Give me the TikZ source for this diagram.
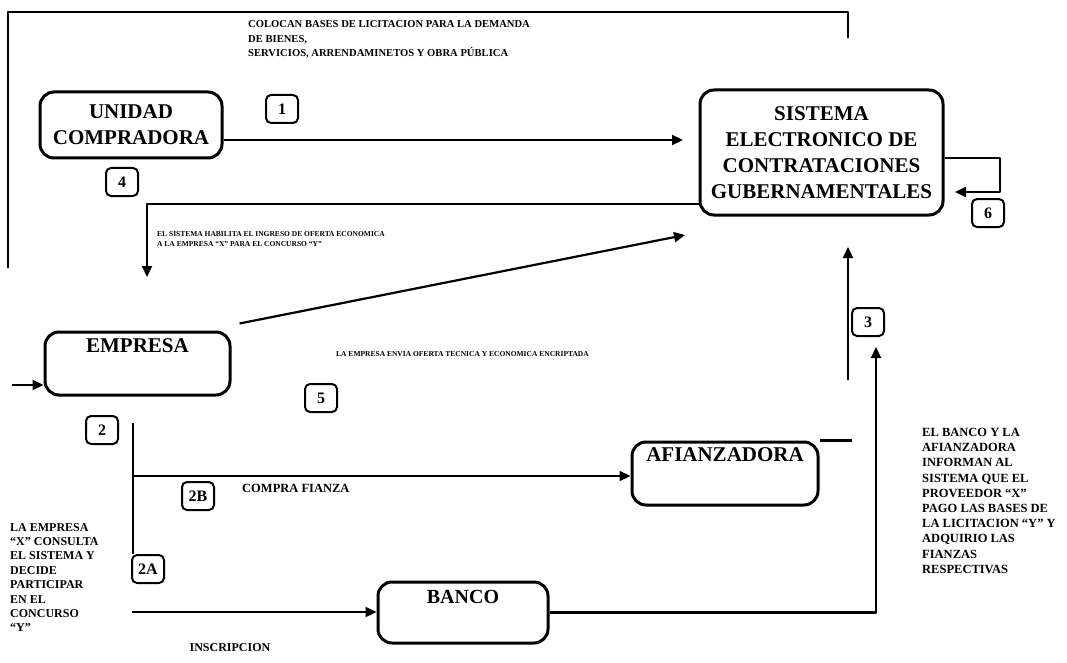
\documentclass[tikz,border=0pt]{standalone}
\usepackage{fontspec}
\setmainfont{Liberation Serif}
\usetikzlibrary{arrows.meta,positioning}

\begin{document}
\begin{tikzpicture}[x=1pt, y=-1pt, line join=round,
  bloque/.style={draw, line width=3pt, rounded corners=14pt},
  bloquetexto/.style={font=\fontsize{21}{26}\selectfont\bfseries, align=center},
  paso/.style={draw, line width=2pt, rounded corners=5pt, minimum width=32pt,
    minimum height=28pt, inner sep=2pt, font=\fontsize{16}{16}\selectfont\bfseries},
  flecha/.style={line width=2.2pt, -{Triangle[length=11pt,width=10pt]}},
  linea/.style={line width=2.2pt},
  nota/.style={font=\fontsize{12}{14.4}\selectfont\bfseries, align=left, inner sep=0pt},
  notita/.style={font=\fontsize{7.5}{10}\selectfont\bfseries, align=left, inner sep=0pt}]
\useasboundingbox (0,0) rectangle (1067,663);
% boxes
\node[bloque, bloquetexto, minimum width=182pt, minimum height=66pt] (unidad) at (131,125) {UNIDAD\\COMPRADORA};
\node[bloque, bloquetexto, minimum width=243pt, minimum height=125pt] (sistema) at (821.5,152.5)
  {SISTEMA\\ELECTRONICO DE\\CONTRATACIONES\\GUBERNAMENTALES};
\node[bloque, minimum width=185pt, minimum height=63pt] (empresa) at (137.5,363.5) {};
\node[bloquetexto, below=5pt of empresa.north] (empresa-t) {EMPRESA};
\node[bloque, minimum width=186pt, minimum height=63pt] (afz) at (725,473.5) {};
\node[bloquetexto, below=4pt of afz.north] (afz-t) {AFIANZADORA};
\node[bloque, minimum width=170pt, minimum height=61pt] (banco) at (463,612.5) {};
\node[bloquetexto, font=\fontsize{20}{24}\selectfont\bfseries, below=6pt of banco.north] (banco-t) {BANCO};
% step numbers
\node[paso] (uno) at (282,109) {1};
\node[paso] (cuatro) at (122,182) {4};
\node[paso] (seis) at (988,213) {6};
\node[paso] (cinco) at (321,398) {5};
\node[paso] (dos) at (102,430) {2};
\node[paso] (dosB) at (198,496) {2B};
\node[paso] (dosA) at (148,569) {2A};
\node[paso] (tres) at (868,322) {3};
% free ends
\coordinate (marco-a) at (8,268);
\coordinate (marco-b) at (848,12);
\coordinate (marco-c) at (848,38);
\coordinate (p1) at (683,140);
\coordinate (p4a) at (700,204);
\coordinate (p4b) at (147,277);
\coordinate (p5) at (685,235);
\coordinate (p6a) at (1000,192);
\coordinate (p6b) at (955,192);
\coordinate (entrada) at (12,385);
\coordinate (p2) at (133,423);
\coordinate (p2b) at (133,476);
\coordinate (p2a) at (132,612);
\coordinate (p3a) at (848,380);
\coordinate (p3b) at (848,247);
\coordinate (p3c) at (876,347);
% connectors
\draw[linea] (marco-a) |- (marco-b) -- (marco-c);
\draw[flecha] (unidad.east |- p1) -- (p1);
\draw[flecha] (p4a) -| (p4b);
\draw[flecha] ([shift={(8,-7)}]empresa.north east) -- (p5);
\draw[flecha] (sistema.east |- 0,158) -| (p6a) -- (p6b);
\draw[flecha] (entrada) -- (empresa.west |- entrada);
\draw[linea] (p2) -- (p2 |- dosA.north);
\draw[flecha] (p2b) -- (afz.west |- p2b);
\draw[linea] (afz.north east) -- ++(32,0);
\draw[flecha] (p3a) -- (p3b);
\draw[flecha] (banco.east) -| (p3c);
\draw[flecha] (p2a) -- (banco.west |- p2a);
% texts
\node[nota, font=\fontsize{10.6}{14.5}\selectfont\bfseries, anchor=north west] (txt-bases) at (248,20.5)
  {COLOCAN BASES DE LICITACION PARA LA DEMANDA\\DE BIENES,\\SERVICIOS, ARRENDAMINETOS Y OBRA PÚBLICA};
\node[notita, anchor=north west] (txt-habilita) at (157,231)
  {EL SISTEMA HABILITA EL INGRESO DE OFERTA ECONOMICA\\A LA EMPRESA ``X'' PARA EL CONCURSO ``Y''};
\node[notita, anchor=west] (txt-envia) at (336,354) {LA EMPRESA ENVIA OFERTA TECNICA Y ECONOMICA ENCRIPTADA};
\node[nota, font=\fontsize{12.5}{14}\selectfont\bfseries, anchor=west] (txt-compra) at (242,488) {COMPRA FIANZA};
\node[nota, anchor=north west] (txt-consulta) at (10,523)
  {LA EMPRESA\\``X'' CONSULTA\\EL SISTEMA Y\\DECIDE\\PARTICIPAR\\EN EL\\CONCURSO\\``Y''};
\node[nota] (txt-inscripcion) at (230,648) {INSCRIPCION};
\node[nota, font=\fontsize{12.5}{15.2}\selectfont\bfseries, anchor=north west] (txt-informan) at (922,428)
  {EL BANCO Y LA\\AFIANZADORA\\INFORMAN AL\\SISTEMA QUE EL\\PROVEEDOR ``X''\\PAGO LAS BASES DE\\LA LICITACION ``Y'' Y\\ADQUIRIO LAS\\FIANZAS\\RESPECTIVAS};
\end{tikzpicture}
\end{document}
